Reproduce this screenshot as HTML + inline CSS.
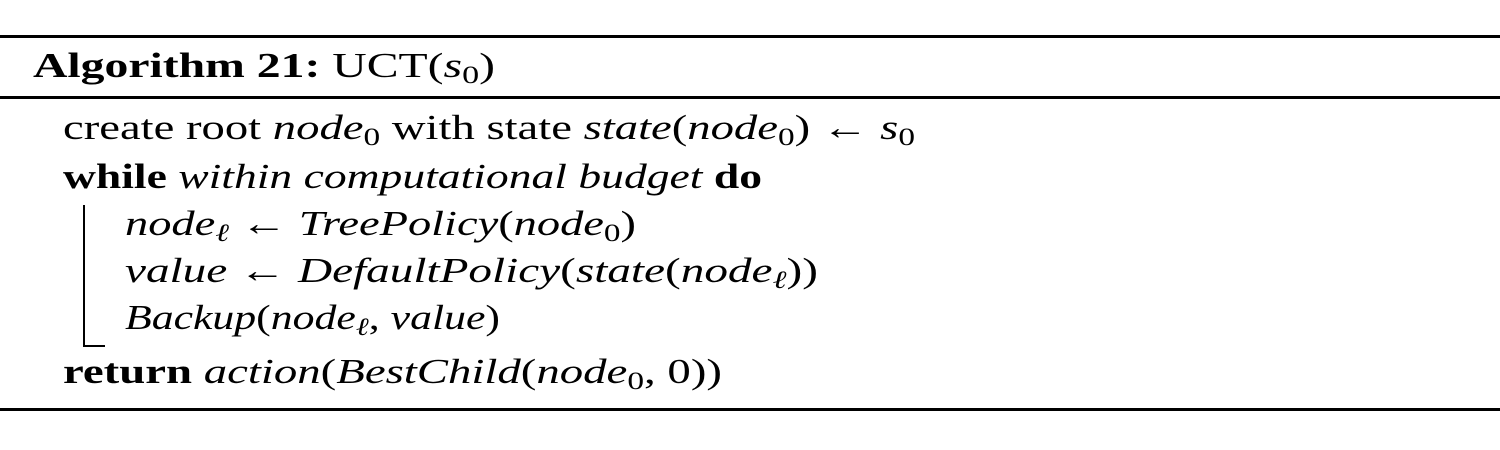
<!DOCTYPE html>
<html><head><meta charset="utf-8">
<style>
html,body{margin:0;padding:0;background:#fff;width:1500px;height:450px;overflow:hidden}
svg{display:block}
text{font-family:"Liberation Serif",serif;font-size:35px;fill:#000}
.b{font-weight:bold}
.i{font-style:italic}
.s{font-size:25px}
</style></head>
<body>
<svg width="1500" height="450">
<rect x="0" y="35" width="1500" height="3" fill="#000"/>
<rect x="0" y="96" width="1500" height="3" fill="#000"/>
<rect x="0" y="408" width="1500" height="3" fill="#000"/>

<text x="33" y="77" textLength="462" lengthAdjust="spacingAndGlyphs"><tspan class="b">Algorithm 21:</tspan> UCT(<tspan class="i">s</tspan><tspan class="s" dy="6">0</tspan><tspan dy="-6">)</tspan></text>

<text x="63" y="139" textLength="852" lengthAdjust="spacingAndGlyphs">create root <tspan class="i">node</tspan><tspan class="s" dy="6">0</tspan><tspan dy="-6"> with state </tspan><tspan class="i">state</tspan>(<tspan class="i">node</tspan><tspan class="s" dy="6">0</tspan><tspan dy="-6">) ← </tspan><tspan class="i">s</tspan><tspan class="s" dy="6">0</tspan></text>

<text x="63" y="188" textLength="699" lengthAdjust="spacingAndGlyphs"><tspan class="b">while</tspan> <tspan class="i">within computational budget</tspan> <tspan class="b">do</tspan></text>

<path d="M84 205 V346 H105" fill="none" stroke="#000" stroke-width="2"/>

<text x="125" y="235" textLength="511" lengthAdjust="spacingAndGlyphs"><tspan class="i">node</tspan><tspan class="s i" dy="6">ℓ</tspan><tspan dy="-6"> ← </tspan><tspan class="i">TreePolicy</tspan>(<tspan class="i">node</tspan><tspan class="s" dy="6">0</tspan><tspan dy="-6">)</tspan></text>

<text x="125" y="282" textLength="693" lengthAdjust="spacingAndGlyphs"><tspan class="i">value</tspan> ← <tspan class="i">DefaultPolicy</tspan>(<tspan class="i">state</tspan>(<tspan class="i">node</tspan><tspan class="s i" dy="6">ℓ</tspan><tspan dy="-6">))</tspan></text>

<text x="125" y="329" textLength="375" lengthAdjust="spacingAndGlyphs"><tspan class="i">Backup</tspan>(<tspan class="i">node</tspan><tspan class="s i" dy="6">ℓ</tspan><tspan dy="-6">, </tspan><tspan class="i">value</tspan>)</text>

<text x="63" y="383" textLength="659" lengthAdjust="spacingAndGlyphs"><tspan class="b">return</tspan> <tspan class="i">action</tspan>(<tspan class="i">BestChild</tspan>(<tspan class="i">node</tspan><tspan class="s" dy="6">0</tspan><tspan dy="-6">, 0))</tspan></text>
</svg>
</body></html>
